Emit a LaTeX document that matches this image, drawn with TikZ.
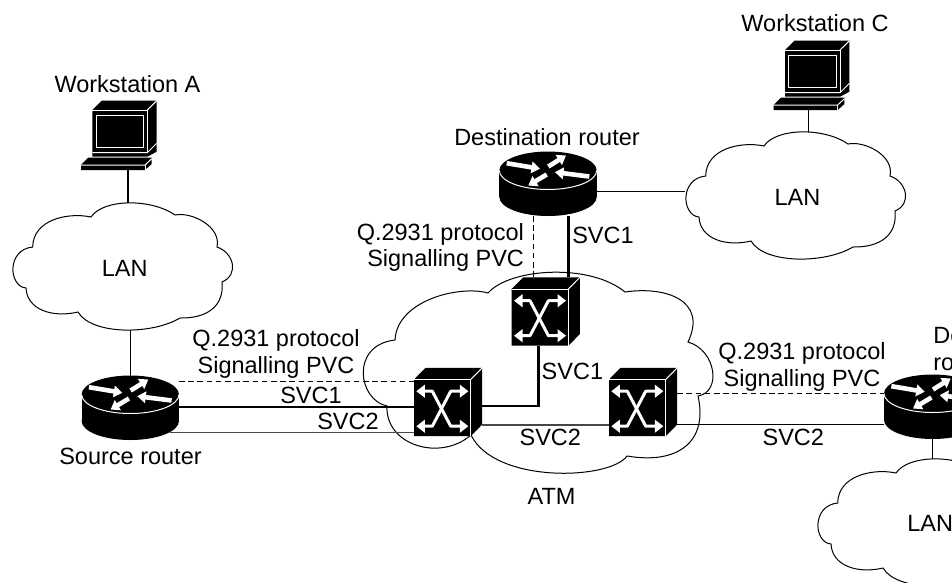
\documentclass[tikz,border=0pt]{standalone}
\usepackage{fontspec}
\setmainfont{Liberation Sans}
\usetikzlibrary{arrows.meta}
\tikzset{
  lbl/.style={font=\fontsize{23.5}{28}\selectfont, inner sep=0pt, outer sep=0pt, text=black},
  base c/.style={lbl, anchor=base},
  base r/.style={lbl, anchor=base east},
  base l/.style={lbl, anchor=base west},
  devbox/.style={inner sep=0pt, outer sep=0pt, draw=none, minimum width=#1},
  wire/.style={line width=1.1pt, black},
  softwire/.style={line width=1.4pt, black!72},
  thickwire/.style={line width=2.7pt, black},
  dashwire/.style={line width=1.2pt, black, dash pattern=on 5.5pt off 3.7pt},
  cloudline/.style={line width=1pt, black},
  wharrow/.style={white, line width=4.6pt, -{Triangle[width=11.5pt,length=8.5pt]}},
  xarrow/.style={white, line width=3pt, line join=round, {Triangle[width=12.5pt,length=8.5pt]}-{Triangle[width=12.5pt,length=8.5pt]}},
  wedge/.style={white, line width=1pt},
  routerpic/.pic={
    \fill[black] (0,26.5) ellipse [x radius=48.7pt, y radius=19pt];
    \fill[black] (-48.7,0) rectangle (48.7,26.5);
    \fill[black] (0,0) ellipse [x radius=48.7pt, y radius=19pt];
    \draw[wedge] (48.7,0) .. controls (48.7,10.5) and (26.9,19) .. (0,19) .. controls (-26.9,19) and (-48.7,10.5) .. (-48.7,0);
    \draw[wharrow] (-41.3,-7.3) -- (-8,-1.7);
    \draw[wharrow] (0.3,-4) -- (18,-15);
    \draw[wharrow] (41.3,6) -- (7,1.7);
    \draw[wharrow] (-1.3,4) -- (-19.7,15);
  },
  switchpic/.pic={
    \fill[black] (0,0) -- (11.5,-11.7) -- (68.2,-11.7) -- (68.2,45) -- (56.7,56.7) -- (0,56.7) -- cycle;
    \draw[wedge] (0,0) -- (56.7,0) -- (56.7,56.7);
    \draw[wedge] (56.7,0) -- (68.2,-11.7);
    \draw[xarrow] (2.3,11.7) -- (18.3,11.7) -- (36.7,46.7) -- (54.4,46.7);
    \draw[xarrow] (2.3,46.7) -- (18.3,46.7) -- (36.7,11.7) -- (54.4,11.7);
  },
  wspic/.pic={
    \fill[black] (0,9.3) -- (9.4,0) -- (64.4,0) -- (64.4,51) -- (55,56) -- (0,56) -- cycle;
    \fill[black] (-4,56.8) -- (59.4,56.8) -- (59.4,63.3) -- (52.7,69.3) -- (-11.3,69.3) -- (-11.3,64.3) -- cycle;
    \draw[wedge] (3.7,14.3) rectangle (51,47);
    \draw[wedge] (0,9.3) -- (55,9.3) -- (55,52);
    \draw[wedge] (55,9.3) -- (64.4,0);
    \draw[wedge] (0,52) -- (55,52) -- (64.4,42.6);
    \draw[wedge] (-11.3,64.3) -- (52.7,64.3) -- (59.4,58);
    \draw[wedge] (52.7,64.3) -- (52.7,69.3);
  },
  cloudpic/.pic={
    \draw[cloudline] (-30.5,-49.5) .. controls (-18,-68) and (30,-68) .. (53.5,-51.5)
      .. controls (70,-55) and (100,-40) .. (95.5,-19.5)
      .. controls (112,-14) and (118,8) .. (100.5,15.5)
      .. controls (103,40) and (85,52) .. (58.5,51.5)
      .. controls (30,68.5) and (-30,68.5) .. (-43.5,45.5)
      .. controls (-68.5,51.5) and (-94.5,43.5) .. (-95.5,21.5)
      .. controls (-113,20) and (-115,-17) .. (-88.8,-19.5)
      .. controls (-88.5,-46.5) and (-54.5,-54.5) .. (-30.5,-49.5) -- cycle;
  }
}
\newcommand\routerat[3]{\node[devbox=97.4pt, minimum height=64.5pt] (#1) at (#2,#3+13.25) {}; \pic at (#2,#3) {routerpic};}
\newcommand\switchat[3]{\node[devbox=68.2pt, minimum height=68.4pt] (#1) at (#2+34.1,#3+22.5) {}; \pic at (#2,#3) {switchpic};}
\newcommand\wsat[3]{\node[devbox=75.7pt, minimum height=69.3pt] (#1) at (#2+26.55,#3+34.65) {}; \pic at (#2,#3) {wspic};}
\newcommand\cloudat[3]{\node[devbox=219pt, minimum height=127pt] (#1) at (#2,#3) {}; \pic at (#2,#3) {cloudpic};}
\begin{document}
\begin{tikzpicture}[x=1pt,y=-1pt]
\clip (0,0) rectangle (952,582);
% clouds
\cloudat{lana}{121.5}{266.5}
\cloudat{lanc}{794.5}{195.5}
\cloudat{land}{926.5}{522.5}
\node[devbox=350pt, minimum height=203pt] (atm) at (538,371.5) {};
\draw[cloudline] (488,293) .. controls (510,268) and (590,263) .. (625,292)
  .. controls (665,286) and (708,300) .. (688,342)
  .. controls (716,350) and (722,392) .. (698,396)
  .. controls (708,440) and (680,465) .. (627,456)
  .. controls (610,480) and (495,484) .. (471,435)
  .. controls (440,462) and (385,445) .. (387,406)
  .. controls (358,400) and (350,345) .. (395,340)
  .. controls (397,300) and (460,285) .. (488,293) -- cycle;
% devices
\wsat{wsa}{92.3}{100.7}
\wsat{wsc}{785}{40.7}
\routerat{src}{130.3}{394.5}
\routerat{dst}{548}{170.5}
\routerat{rgt}{932.7}{393.5}
\switchat{swt}{511.7}{289}
\switchat{swl}{414}{379.5}
\switchat{swr}{609}{379.5}
% connectors
\draw[wire] (128,0 |- wsa.south) -- (128,0 |- lana.north);
\draw[wire] (130.7,0 |- lana.south) -- (130.7,0 |- src.north);
\draw[wire] (808.3,0 |- wsc.south) -- (808.3,0 |- lanc.north);
\draw[wire] (dst.east |- 0,191.7) -- (lanc.west |- 0,191.7);
\draw[wire] (932.7,0 |- rgt.south) -- (932.7,0 |- land.north);
\draw[dashwire] (533.3,0 |- dst.south) -- (533.3,0 |- swt.north);
\draw[thickwire] (568.3,0 |- dst.south) -- (568.3,0 |- swt.north);
\draw[thickwire] (538.3,0 |- swt.south) -- (538.3,406) -- (swl.east |- 0,406);
\draw[thickwire] (src.east |- 0,407) -- (swl.west |- 0,407);
\draw[dashwire] (src.east |- 0,381.7) -- (swl.west |- 0,381.7);
\draw[softwire] (170,0 |- 0,432.7) -- (swl.west |- 0,432.7);
\draw[softwire] (swl.east |- 0,425) -- (swr.west |- 0,425);
\draw[wire] (swr.east |- 0,424.3) -- (rgt.west |- 0,424.3);
\draw[dashwire] (swr.east |- 0,393.5) -- (rgt.west |- 0,393.5);
% labels
\node[base c] (t1) at (127.5,92.3) {Workstation A};
\node[base c] (t2) at (815,31.7) {Workstation C};
\node[base c] (t3) at (547,145) {Destination router};
\node[base c] (t4) at (124.7,276) {LAN};
\node[base c] (t5) at (797.5,205) {LAN};
\node[base l] (t6) at (907.3,531.7) {LAN};
\node[base r] (t7) at (524,240) {Q.2931 protocol};
\node[base r] (t8) at (524,266) {Signalling PVC};
\node[base l] (t9) at (572.3,243) {SVC1};
\node[base l] (t10) at (541.7,379.3) {SVC1};
\node[base c] (t11) at (550.3,445) {SVC2};
\node[base c] (t12) at (276,346.7) {Q.2931 protocol};
\node[base c] (t13) at (276,373.3) {Signalling PVC};
\node[base c] (t14) at (802,359) {Q.2931 protocol};
\node[base c] (t15) at (802,386) {Signalling PVC};
\node[base c] (t16) at (311,403) {SVC1};
\node[base c] (t17) at (348,429.3) {SVC2};
\node[base c] (t18) at (793.3,445) {SVC2};
\node[base c] (t19) at (130.5,464) {Source router};
\node[base c] (t20) at (551.5,504) {ATM};
\node[base l] (t21) at (933.3,343.3) {De};
\node[base l] (t22) at (933.3,370) {ro};
\end{tikzpicture}
\end{document}
